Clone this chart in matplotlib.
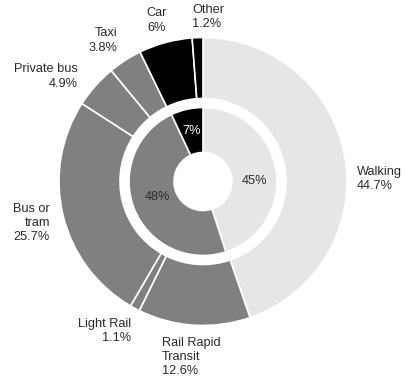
import matplotlib
matplotlib.use("Agg")
import matplotlib.pyplot as plt

plt.rcParams['font.family'] = ['Liberation Sans', 'DejaVu Sans']

# Outer ring: individual modes
modes = ["Walking", "Rail Rapid\nTransit", "Light Rail", "Bus or\ntram",
         "Private bus", "Taxi", "Car", "Other"]
mode_share = [44.7, 12.6, 1.1, 25.7, 4.9, 3.8, 6, 1.2]
mode_colors = ["#e6e6e6", "#808080", "#808080", "#808080",
               "#808080", "#808080", "#000000", "#000000"]

# Inner ring: grouped modes
group_share = [45, 48, 7]
group_colors = ["#e6e6e6", "#808080", "#000000"]
group_text_colors = ["#2b2b2b", "#2b2b2b", "#ffffff"]

# label anchors in pixel coordinates (x, y from top-left) and alignment
label_pos = [(357, 179, "left"), (162, 357, "left"), (131, 331, "right"),
             (50, 223, "right"), (78, 76.5, "right"), (117, 40.5, "right"),
             (157, 20.5, "center"), (192, 17, "left")]
inner_pos = [(255, 181), (157, 197), (192, 131)]

W, H = 407, 383
cx, cy = 203, 181.5

fig = plt.figure(figsize=(W / 100, H / 100), dpi=100)
ax = fig.add_axes([0, 0, 1, 1])

wedge_kw = dict(edgecolor="white", linewidth=1.2)
ax.pie(mode_share, colors=mode_colors, radius=144, startangle=90,
       counterclock=False, wedgeprops=dict(width=61, **wedge_kw))
ax.pie(group_share, colors=group_colors, radius=74, startangle=90,
       counterclock=False, wedgeprops=dict(width=45, **wedge_kw))

ax.set_xlim(-cx, W - cx)
ax.set_ylim(cy - H, cy)
ax.set_aspect("equal")
ax.axis("off")

for name, val, (px, py, ha) in zip(modes, mode_share, label_pos):
    ax.text(px - cx, cy - py, f"{name}\n{val:g}%", ha=ha, va="center",
            fontsize=9.2, color="#2b2b2b", linespacing=1.25, multialignment=ha)

for val, col, (px, py) in zip(group_share, group_text_colors, inner_pos):
    ax.text(px - cx, cy - py, f"{val}%", ha="center", va="center",
            fontsize=9.2, color=col)

fig.savefig("out.png", dpi=100)
